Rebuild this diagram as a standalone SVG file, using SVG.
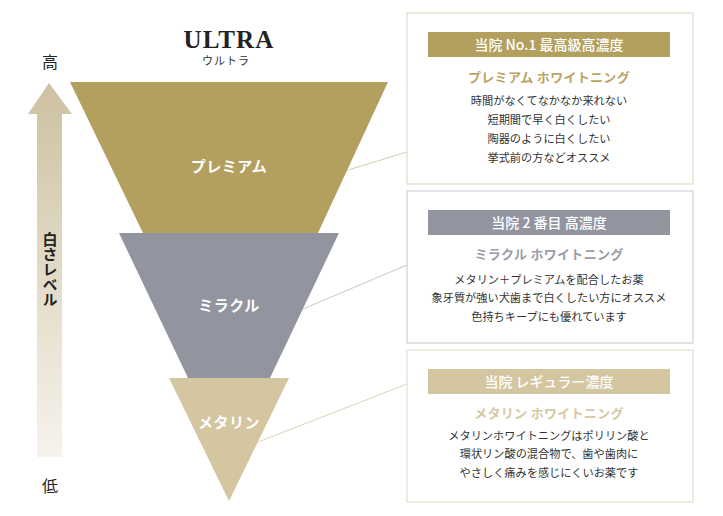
<svg xmlns="http://www.w3.org/2000/svg" width="723" height="516" viewBox="0 0 723 516">
<style>
text{font-family:"Noto Sans CJK JP","Noto Sans",sans-serif;text-anchor:middle}
.lbl{fill:#fff;font-size:15px;font-weight:700;letter-spacing:0.5px}
.hdr{fill:#fff;font-size:14px;font-weight:500}
.sub{font-size:13px;font-weight:700;letter-spacing:0.3px}
.body{fill:#333;font-size:11.2px}
.side{fill:#222;font-size:16px}
.conn{fill:none;stroke-width:1}
.box{fill:#fff;stroke-width:1.2}
</style>
<defs>
<linearGradient id="ag" x1="0" y1="0" x2="0" y2="1">
<stop offset="0" stop-color="#cdc1a0"/>
<stop offset="1" stop-color="#f6f3ec"/>
</linearGradient>
</defs>
<rect width="723" height="516" fill="#fff"/>
<g id="title">
<text x="229" y="48" style="font-family:'Liberation Serif',serif;font-size:25px;font-weight:700;fill:#222;letter-spacing:1.2px">ULTRA</text>
<text x="226" y="65" style="font-size:11px;fill:#333;letter-spacing:1px">ウルトラ</text>
</g>
<g id="axis">
<polygon points="49,83 72,114 62,114 62,457 37,457 37,114 28,114" fill="url(#ag)"/>
<text class="side" x="50" y="68">高</text>
<text class="side" x="50" y="492">低</text>
<text x="50" y="232" style="writing-mode:vertical-rl;text-anchor:start;font-size:15px;font-weight:700;fill:#222">白さレベル</text>
</g>
<g id="connectors">
<line class="conn" x1="345" y1="171" x2="407" y2="152" stroke="#d3ccb4"/>
<line class="conn" x1="303" y1="309" x2="407" y2="265" stroke="#c8c8cc"/>
<line class="conn" x1="258" y1="442" x2="407" y2="384" stroke="#dcd4b8"/>
</g>
<g id="premium">
<polygon points="70,82 388,82 318,233 143,233" fill="#b39f5e"/>
<text class="lbl" x="229" y="172">プレミアム</text>
</g>
<g id="miracle">
<polygon points="119,233 339,233 270,378 188,378" fill="#92949f"/>
<text class="lbl" x="229" y="311">ミラクル</text>
</g>
<g id="metallic">
<polygon points="169,378 289,378 229,501" fill="#d4c6a0"/>
<text class="lbl" x="229" y="428">メタリン</text>
</g>
<g id="box-premium">
<rect class="box" x="407" y="13" width="286" height="171" stroke="#e0dac4"/>
<rect x="428" y="32" width="242" height="25" fill="#b39f5e"/>
<text class="hdr" x="549" y="50">当院 No.1 最高級高濃度</text>
<text class="sub" x="549" y="82" fill="#bba465">プレミアム ホワイトニング</text>
<text class="body" x="549" y="105">時間がなくてなかなか来れない</text>
<text class="body" x="549" y="124">短期間で早く白くしたい</text>
<text class="body" x="549" y="143">陶器のように白くしたい</text>
<text class="body" x="549" y="162">挙式前の方などオススメ</text>
</g>
<g id="box-miracle">
<rect class="box" x="407" y="191" width="286" height="152" stroke="#d0d0d4"/>
<rect x="428" y="210" width="242" height="25" fill="#92949f"/>
<text class="hdr" x="549" y="228">当院 2 番目 高濃度</text>
<text class="sub" x="549" y="259" fill="#9a9ca6">ミラクル ホワイトニング</text>
<text class="body" x="549" y="284">メタリン＋プレミアムを配合したお薬</text>
<text class="body" x="549" y="302">象牙質が強い犬歯まで白くしたい方にオススメ</text>
<text class="body" x="549" y="321">色持ちキープにも優れています</text>
</g>
<g id="box-metallic">
<rect class="box" x="407" y="350" width="286" height="152" stroke="#e6e0cf"/>
<rect x="428" y="369" width="242" height="25" fill="#d4c6a0"/>
<text class="hdr" x="549" y="387">当院 レギュラー濃度</text>
<text class="sub" x="549" y="418" fill="#d6c8a2">メタリン ホワイトニング</text>
<text class="body" x="549" y="440">メタリンホワイトニングはポリリン酸と</text>
<text class="body" x="549" y="458">環状リン酸の混合物で、歯や歯肉に</text>
<text class="body" x="549" y="477">やさしく痛みを感じにくいお薬です</text>
</g>
</svg>
